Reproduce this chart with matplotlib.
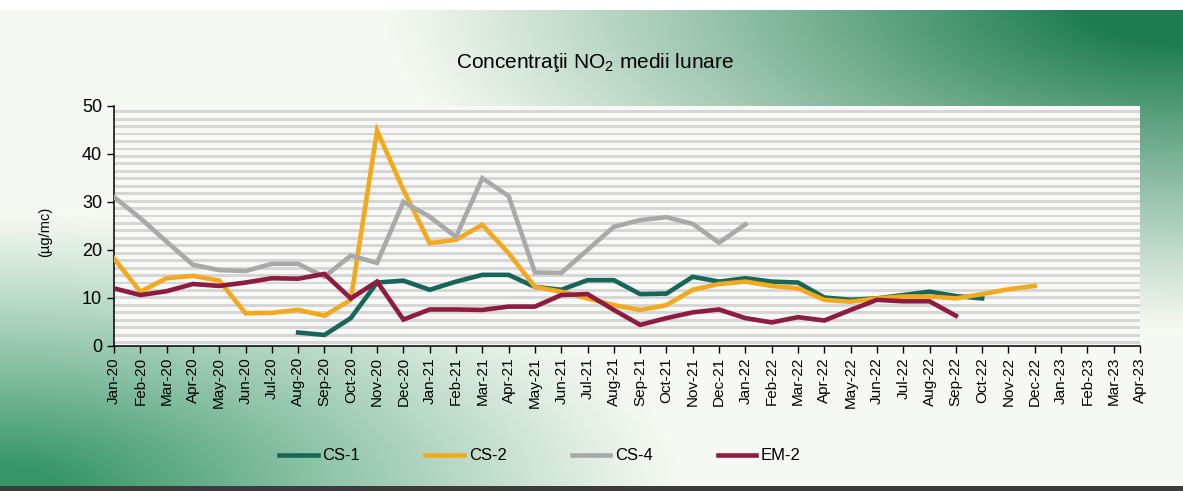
import numpy as np
import matplotlib
matplotlib.use("Agg")
import matplotlib.pyplot as plt

nan = np.nan

# month labels on the category axis
months = ["Jan-20", "Feb-20", "Mar-20", "Apr-20", "May-20", "Jun-20", "Jul-20", "Aug-20",
          "Sep-20", "Oct-20", "Nov-20", "Dec-20", "Jan-21", "Feb-21", "Mar-21", "Apr-21",
          "May-21", "Jun-21", "Jul-21", "Aug-21", "Sep-21", "Oct-21", "Nov-21", "Dec-21",
          "Jan-22", "Feb-22", "Mar-22", "Apr-22", "May-22", "Jun-22", "Jul-22", "Aug-22",
          "Sep-22", "Oct-22", "Nov-22", "Dec-22", "Jan-23", "Feb-23", "Mar-23", "Apr-23"]

# monthly NO2 means (ug/mc)
cs1 = [nan] * 7 + [2.8, 2.3, 5.8, 13.2, 13.6, 11.7, 13.4, 14.8, 14.8, 12.3,
                   11.7, 13.7, 13.7, 10.8, 10.9, 14.4, 13.4, 14.1, 13.4, 13.2,
                   10.1, 9.6, 9.9, 10.6, 11.3, 10.4, 9.9] + [nan] * 6
cs2 = [18.2, 11.3, 14.1, 14.6, 13.6, 6.8, 6.9, 7.5, 6.3, 9.6,
       44.8, 32.5, 21.4, 22.1, 25.2, 19.3, 12.3, 11.3, 9.9, 8.5,
       7.5, 8.5, 11.7, 12.9, 13.4, 12.5, 12.0, 9.6, 9.2, 9.9,
       10.3, 10.3, 9.9, 10.8, 11.8, 12.5] + [nan] * 4
cs4 = [31.0, 26.6, 21.7, 16.9, 15.8, 15.6, 17.1, 17.1, 14.4, 18.8,
       17.3, 30.0, 26.9, 22.7, 34.9, 31.2, 15.3, 15.2, 20.0, 24.8,
       26.2, 26.8, 25.4, 21.5, 25.3] + [nan] * 15
em2 = [12.0, 10.6, 11.4, 12.9, 12.5, 13.2, 14.1, 14.0, 15.0, 9.9,
       13.4, 5.5, 7.6, 7.6, 7.5, 8.2, 8.2, 10.6, 10.8, 7.5,
       4.4, 5.8, 7.0, 7.6, 5.8, 4.9, 6.0, 5.3, 7.5, 9.6,
       9.3, 9.3, 6.3] + [nan] * 7

series_names = ["CS-1", "CS-2", "CS-4", "EM-2"]
series_colors = ["#17665a", "#f2a91e", "#a9a9a9", "#8e1c40"]

plt.rcParams['font.family'] = ['Liberation Sans', 'DejaVu Sans']

fig = plt.figure(figsize=(11.83, 4.91), dpi=100)

# scanned page background: green gradient top-right and bottom-left
H, W = 491, 1183
yy, xx = np.mgrid[0:H, 0:W].astype(float)
base = np.array([246, 249, 243], float)
g1 = np.array([30, 125, 80], float)
g2 = np.array([55, 150, 105], float)
d1 = np.sqrt(((W - xx) / 800.0) ** 2 + (yy / 330.0) ** 2)
w1 = np.clip(1.15 * (1 - d1), 0, 1) ** 1.1
d2 = np.sqrt((xx / 680.0) ** 2 + ((H - yy) / 280.0) ** 2)
w2 = np.clip(1.1 * (1 - d2), 0, 1) ** 1.1
img = base * (1 - w1[..., None]) + g1 * w1[..., None]
img = img * (1 - w2[..., None]) + g2 * w2[..., None]
img[:10] = 255
img[486:] = [60, 60, 60]
bg = fig.add_axes([0, 0, 1, 1], zorder=-5)
bg.imshow(img.astype(np.uint8), aspect='auto')
bg.axis('off')

ax = fig.add_axes([114 / W, 1 - 346 / H, (1140 - 114) / W, (346 - 105.7) / H])
ax.set_facecolor("#f8f8f6")

# striped pattern fill of the plot area
for y0 in np.arange(0.4, 50, 1.55):
    ax.axhspan(y0, y0 + 0.6, color="#d6d6d6", lw=0, zorder=0)

x = np.arange(len(months))
for vals, name, col in zip([cs1, cs2, cs4, em2], series_names, series_colors):
    ax.plot(x, vals, color=col, lw=3.3, label=name, solid_joinstyle='miter', zorder=3)

ax.set_xlim(0, len(months) - 1)
ax.set_ylim(0, 50)
ax.set_xticks(x)
ax.set_xticklabels(months, rotation=90, fontsize=11)
ax.set_yticks(range(0, 51, 10))
ax.tick_params(axis='y', labelsize=13, direction='out', length=5, width=1)
ax.tick_params(axis='x', direction='out', length=5, width=1, pad=3)
for s in ['top', 'right']:
    ax.spines[s].set_visible(False)
for s in ['left', 'bottom']:
    ax.spines[s].set_linewidth(1.1)

fig.text(45 / W, 1 - 232 / H, "(µg/mc)", rotation=90, ha='center', va='center', fontsize=10.5)
fig.text(595 / W, 1 - 62 / H, r"Concentraţii NO$_\mathregular{2}$ medii lunare",
         ha='center', va='center', fontsize=15)

fig.legend(loc='center', bbox_to_anchor=(540 / W, 1 - 456 / H), ncol=4, frameon=False,
           fontsize=12, handlelength=2.3, handletextpad=0.3, columnspacing=3.9)

fig.savefig("out.png", dpi=100)
